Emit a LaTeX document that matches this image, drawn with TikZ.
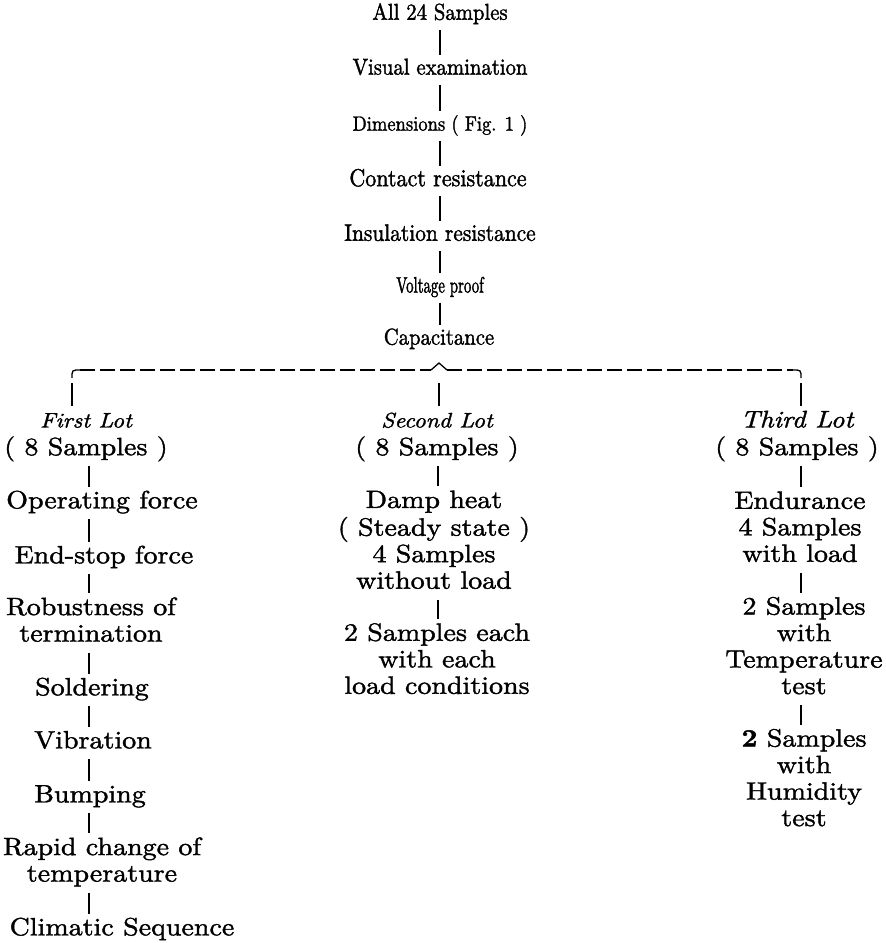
\documentclass[tikz,border=0pt]{standalone}
\usepackage{fontspec}
\newfontfamily\lowf{lmroman10-regular.otf}[FakeStretch=1.12,FakeBold=1.5,ItalicFont=lmroman10-italic.otf,BoldFont=lmroman10-bold.otf]
\newfontfamily\topf{lmroman10-regular.otf}[FakeStretch=0.9,FakeBold=1.5]
\newfontfamily\condf{lmroman10-regular.otf}[FakeStretch=0.66,FakeBold=1.5]
\begin{document}
\begin{tikzpicture}[x=1pt,y=-1pt,
  top/.style={font=\topf\fontsize{23}{23}\selectfont, inner sep=0pt, align=center},
  low/.style={font=\lowf\fontsize{25}{26.5}\selectfont, inner sep=0pt, align=center},
  conn/.style={line width=1.3pt, shorten <=3pt, shorten >=3pt},
  bracedash/.style={line width=1.3pt, dash pattern=on 15pt off 5pt},
  bracesolid/.style={line width=1.3pt}]
\path[fill=white] (0,0) rectangle (886,943);
\useasboundingbox (0,0) rectangle (886,943);

% axes
\coordinate (axT) at (440,0);
\coordinate (axL) at (89,0);
\coordinate (axM) at (438,0);
\coordinate (axR) at (801,0);
\coordinate (bL) at (72,383);
\coordinate (bM) at (439,383);
\coordinate (bR) at (801,383);

% top column
\node[top] (s0) at (440,15) {\strut All 24 Samples};
\node[top] (s1) at (440,70) {\strut Visual examination};
\node[top,font=\topf\fontsize{20.6}{23}\selectfont] (s2) at (440,126) {\strut Dimensions ( Fig. 1 )};
\node[top,font=\topf\fontsize{24.5}{23}\selectfont] (s3) at (438,181) {\strut Contact resistance};
\node[top,font=\topf\fontsize{23.8}{23}\selectfont] (s4) at (440,236) {\strut Insulation resistance};
\node[top,font=\condf\fontsize{22.5}{23}\selectfont] (s5) at (440,288) {\strut Voltage proof};
\node[top] (s6) at (439,340) {\strut Capacitance};
\foreach \a/\b in {s0/s1,s1/s2,s2/s3,s3/s4,s4/s5,s5/s6}
  \draw[conn] (\a.south -| axT) -- (\b.north -| axT);

% brace
\draw[bracesolid] (72,378) .. controls (72,370) .. (80,370);
\draw[bracedash] (80,370) -- (431,370);
\draw[bracesolid] (431,370) -- (439,363) -- (447,370);
\draw[bracedash] (447,370) -- (793,370);
\draw[bracesolid] (793,370) .. controls (801,370) .. (801,378);

% lot headers
\node[low] (h1) at (86,436) {\strut{\itshape\fontsize{21}{26.5}\selectfont First Lot}\\\strut( 8 Samples )};
\node[low] (h2) at (437,436) {\strut{\itshape\fontsize{21}{26.5}\selectfont Second Lot}\\\strut( 8 Samples )};
\node[low] (h3) at (797,436) {\strut{\itshape\fontsize{24}{26.5}\selectfont Third Lot}\\\strut( 8 Samples )};
\draw[conn,shorten <=0pt] (bL) -- (h1.north -| bL);
\draw[conn,shorten <=0pt] (bM) -- (h2.north -| bM);
\draw[conn,shorten <=0pt] (bR) -- (h3.north -| bR);

% first lot
\node[low] (l1) at (102,503) {\strut Operating force};
\node[low] (l2) at (104,558) {\strut End-stop force};
\node[low] (l3) at (91,623) {\strut Robustness of\\\strut termination};
\node[low] (l4) at (92,690) {\strut Soldering};
\node[low] (l5) at (93,743) {\strut Vibration};
\node[low] (l6) at (90,797) {\strut Bumping};
\node[low] (l7) at (102,863) {\strut Rapid change of\\\strut temperature};
\node[low] (l8) at (122,930) {\strut Climatic Sequence};
\foreach \a/\b in {h1/l1,l1/l2,l2/l3,l3/l4,l4/l5,l5/l6,l6/l7,l7/l8}
  \draw[conn] (\a.south -| axL) -- (\b.north -| axL);

% second lot
\node[low] (m1) at (434,543) {\strut Damp heat\\\strut( Steady state )\\\strut 4 Samples\\\strut without load};
\node[low] (m2) at (437,662) {\strut 2 Samples each\\\strut with each\\\strut load conditions};
\foreach \a/\b in {h2/m1,m1/m2}
  \draw[conn] (\a.south -| axM) -- (\b.north -| axM);

% third lot
\node[low] (r1) at (800,530) {\strut Endurance\\\strut 4 Samples\\\strut with load};
\node[low] (r2) at (804,649) {\strut 2 Samples\\\strut with\\\strut Temperature\\\strut test};
\node[low] (r3) at (804,781) {\strut\textbf{2} Samples\\\strut with\\\strut Humidity\\\strut test};
\foreach \a/\b in {h3/r1,r1/r2,r2/r3}
  \draw[conn] (\a.south -| axR) -- (\b.north -| axR);
\end{tikzpicture}
\end{document}
